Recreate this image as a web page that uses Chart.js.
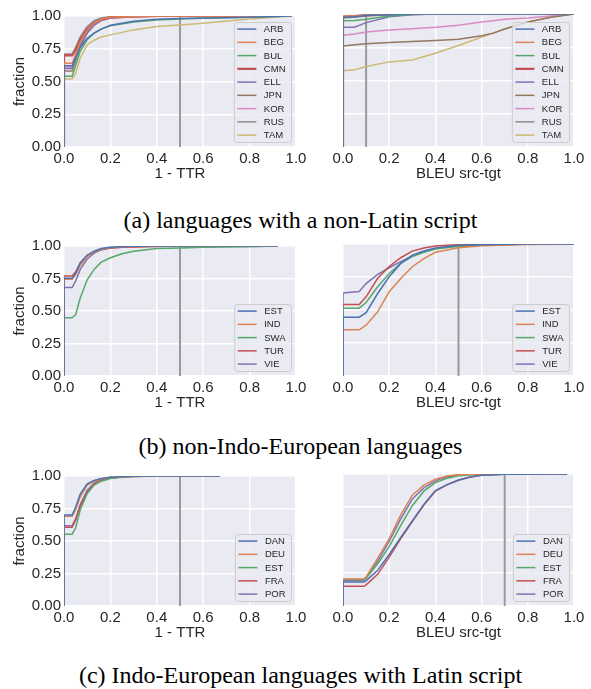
<!DOCTYPE html>
<html>
<head>
<meta charset="utf-8">
<script src="https://cdn.jsdelivr.net/npm/chart.js@4.4.1/dist/chart.umd.min.js"></script>
<style>
  html, body { margin: 0; padding: 0; background: #ffffff; }
  body { width: 591px; height: 689px; position: relative; overflow: hidden; }
  canvas { position: absolute; }
  .cap { position: absolute; left: 0; width: 601px; text-align: center;
         font-family: "Liberation Serif", "Times New Roman", serif; font-size: 24px;
         line-height: 24px; color: #000; white-space: nowrap; }
</style>
</head>
<body>
<canvas id="c1" width="320" height="188" style="left:0px;top:4px"></canvas>
<canvas id="c2" width="291" height="188" style="left:300px;top:4px"></canvas>
<canvas id="c3" width="320" height="187" style="left:0px;top:234px"></canvas>
<canvas id="c4" width="291" height="187" style="left:300px;top:234px"></canvas>
<canvas id="c5" width="320" height="187" style="left:0px;top:464px"></canvas>
<canvas id="c6" width="291" height="187" style="left:300px;top:464px"></canvas>
<div class="cap" style="top:208px">(a) languages with a non-Latin script</div>
<div class="cap" style="top:434px">(b) non-Indo-European languages</div>
<div class="cap" style="top:663px">(c) Indo-European languages with Latin script</div>
<script>
// ---------- data ----------
const PALETTE = ['#4C72B0','#DD8452','#55A868','#C44E52','#8172B3','#937860','#DA8BC3','#8C8C8C','#CCB974'];

const X_TICKS = [0, 0.2, 0.4, 0.6, 0.8, 1.0];
const Y_TICKS = [0, 0.25, 0.5, 0.75, 1.0];

// (a) non-Latin script, 1 - TTR
const A_TTR_LABELS = ['ARB','BEG','BUL','CMN','ELL','JPN','KOR','RUS','TAM'];
const A_TTR_X   = [0, 0, 0.035, 0.05, 0.07, 0.1, 0.13, 0.16, 0.2, 0.3, 0.4, 0.5, 0.6, 0.8, 0.98];
const A_TTR_ARB = [0, 0.62, 0.62, 0.68, 0.76, 0.83, 0.87, 0.90, 0.93, 0.96, 0.975, 0.98, 0.985, 0.99, 1];
const A_TTR_BEG = [0, 0.64, 0.64, 0.71, 0.80, 0.89, 0.945, 0.975, 0.99, 0.997, 1, 1, 1, 1, 1];
const A_TTR_BUL = [0, 0.54, 0.54, 0.62, 0.73, 0.82, 0.87, 0.90, 0.925, 0.955, 0.97, 0.978, 0.983, 0.99, 1];
const A_TTR_CMN = [0, 0.70, 0.70, 0.74, 0.82, 0.90, 0.95, 0.975, 0.99, 0.997, 1, 1, 1, 1, 1];
const A_TTR_ELL = [0, 0.60, 0.60, 0.67, 0.77, 0.87, 0.93, 0.965, 0.985, 0.995, 0.998, 1, 1, 1, 1];
const A_TTR_JPN = [0, 0.58, 0.58, 0.66, 0.77, 0.88, 0.94, 0.97, 0.988, 0.996, 1, 1, 1, 1, 1];
const A_TTR_KOR = [0, 0.61, 0.61, 0.68, 0.78, 0.87, 0.93, 0.965, 0.985, 0.995, 0.998, 1, 1, 1, 1];
const A_TTR_RUS = [0, 0.71, 0.71, 0.76, 0.84, 0.92, 0.965, 0.985, 0.995, 1, 1, 1, 1, 1, 1];
const A_TTR_TAM = [0, 0.52, 0.52, 0.56, 0.68, 0.78, 0.815, 0.84, 0.856, 0.894, 0.92, 0.932, 0.945, 0.977, 1];
const A_TTR_VLINE = 0.5;

// (a) non-Latin script, BLEU src-tgt
const A_BLEU_X   = [0, 0, 0.05, 0.1, 0.2, 0.3, 0.4, 0.5, 0.6, 0.65, 0.7, 0.8, 0.9, 1.0];
const A_BLEU_ARB = [0, 0.975, 0.98, 0.988, 0.995, 1, 1, 1, 1, 1, 1, 1, 1, 1];
const A_BLEU_BEG = [0, 0.98, 0.985, 0.99, 0.997, 1, 1, 1, 1, 1, 1, 1, 1, 1];
const A_BLEU_BUL = [0, 0.95, 0.952, 0.96, 0.985, 0.997, 1, 1, 1, 1, 1, 1, 1, 1];
const A_BLEU_CMN = [0, 0.98, 0.985, 0.992, 0.998, 1, 1, 1, 1, 1, 1, 1, 1, 1];
const A_BLEU_ELL = [0, 0.90, 0.90, 0.935, 0.98, 0.995, 1, 1, 1, 1, 1, 1, 1, 1];
const A_BLEU_JPN = [0, 0.76, 0.768, 0.776, 0.786, 0.793, 0.80, 0.81, 0.836, 0.856, 0.887, 0.94, 0.975, 1];
const A_BLEU_KOR = [0, 0.84, 0.85, 0.864, 0.879, 0.89, 0.90, 0.915, 0.94, 0.95, 0.96, 0.97, 0.985, 1];
const A_BLEU_RUS = [0, 0.97, 0.975, 0.985, 0.995, 1, 1, 1, 1, 1, 1, 1, 1, 1];
const A_BLEU_TAM = [0, 0.574, 0.58, 0.605, 0.64, 0.655, 0.705, 0.763, 0.826, 0.856, 0.887, 0.94, 0.975, 1];
const A_BLEU_VLINE = 0.1;

// (b) non-Indo-European, 1 - TTR
const B_LABELS = ['EST','IND','SWA','TUR','VIE'];
const B_TTR_X   = [0, 0, 0.035, 0.05, 0.07, 0.1, 0.13, 0.16, 0.2, 0.25, 0.3, 0.4, 0.5, 0.6, 0.8, 0.92];
const B_TTR_EST = [0, 0.752, 0.752, 0.79, 0.87, 0.93, 0.96, 0.98, 0.99, 0.995, 0.998, 1, 1, 1, 1, 1];
const B_TTR_IND = [0, 0.744, 0.744, 0.78, 0.85, 0.92, 0.955, 0.975, 0.988, 0.993, 0.996, 1, 1, 1, 1, 1];
const B_TTR_SWA = [0, 0.448, 0.448, 0.47, 0.60, 0.74, 0.82, 0.876, 0.91, 0.94, 0.96, 0.98, 0.985, 0.99, 0.995, 1];
const B_TTR_TUR = [0, 0.77, 0.77, 0.80, 0.87, 0.925, 0.955, 0.975, 0.985, 0.99, 0.993, 0.997, 1, 1, 1, 1];
const B_TTR_VIE = [0, 0.68, 0.68, 0.73, 0.82, 0.90, 0.945, 0.97, 0.985, 0.99, 0.995, 1, 1, 1, 1, 1];
const B_TTR_VLINE = 0.5;

// (b) non-Indo-European, BLEU src-tgt
const B_BLEU_X   = [0, 0, 0.07, 0.1, 0.15, 0.2, 0.25, 0.3, 0.35, 0.4, 0.5, 0.6, 0.8, 1.0];
const B_BLEU_EST = [0, 0.446, 0.446, 0.48, 0.625, 0.752, 0.853, 0.916, 0.947, 0.97, 0.99, 0.995, 1, 1];
const B_BLEU_IND = [0, 0.35, 0.35, 0.385, 0.486, 0.638, 0.739, 0.828, 0.89, 0.937, 0.972, 0.987, 0.997, 1];
const B_BLEU_SWA = [0, 0.514, 0.514, 0.557, 0.676, 0.777, 0.853, 0.904, 0.937, 0.962, 0.982, 0.99, 1, 1];
const B_BLEU_TUR = [0, 0.542, 0.542, 0.60, 0.74, 0.83, 0.896, 0.946, 0.97, 0.985, 0.995, 1, 1, 1];
const B_BLEU_VIE = [0, 0.628, 0.64, 0.70, 0.77, 0.82, 0.866, 0.91, 0.94, 0.965, 0.985, 0.99, 1, 1];
const B_BLEU_VLINE = 0.5;

// (c) Indo-European Latin script, 1 - TTR
const C_LABELS = ['DAN','DEU','EST','FRA','POR'];
const C_TTR_X   = [0, 0, 0.035, 0.05, 0.07, 0.1, 0.13, 0.16, 0.2, 0.25, 0.3, 0.4, 0.67];
const C_TTR_DAN = [0, 0.70, 0.70, 0.76, 0.86, 0.94, 0.965, 0.98, 0.99, 0.996, 0.999, 1, 1];
const C_TTR_DEU = [0, 0.69, 0.69, 0.74, 0.84, 0.93, 0.96, 0.978, 0.99, 0.995, 0.998, 1, 1];
const C_TTR_EST = [0, 0.552, 0.552, 0.60, 0.74, 0.866, 0.93, 0.96, 0.98, 0.99, 0.996, 1, 1];
const C_TTR_FRA = [0, 0.605, 0.605, 0.66, 0.77, 0.878, 0.94, 0.968, 0.984, 0.993, 0.997, 1, 1];
const C_TTR_POR = [0, 0.618, 0.618, 0.67, 0.78, 0.89, 0.945, 0.97, 0.985, 0.994, 0.998, 1, 1];
const C_TTR_VLINE = 0.5;

// (c) Indo-European Latin script, BLEU src-tgt
const C_BLEU_X   = [0, 0, 0.09, 0.1, 0.15, 0.2, 0.25, 0.3, 0.35, 0.4, 0.45, 0.5, 0.55, 0.6, 0.7, 0.97];
const C_BLEU_DAN = [0, 0.182, 0.182, 0.19, 0.27, 0.39, 0.52, 0.645, 0.77, 0.875, 0.92, 0.955, 0.978, 0.99, 0.998, 1];
const C_BLEU_DEU = [0, 0.205, 0.205, 0.22, 0.36, 0.51, 0.69, 0.84, 0.916, 0.96, 0.985, 0.995, 0.998, 1, 1, 1];
const C_BLEU_EST = [0, 0.20, 0.20, 0.21, 0.32, 0.45, 0.61, 0.76, 0.87, 0.935, 0.968, 0.986, 0.994, 0.998, 1, 1];
const C_BLEU_FRA = [0, 0.149, 0.149, 0.16, 0.24, 0.37, 0.51, 0.64, 0.765, 0.87, 0.918, 0.953, 0.977, 0.99, 0.998, 1];
const C_BLEU_POR = [0, 0.195, 0.195, 0.21, 0.34, 0.49, 0.66, 0.81, 0.895, 0.948, 0.978, 0.992, 0.997, 1, 1, 1];
const C_BLEU_VLINE = 0.7;

// ---------- chart building ----------
const TEXT_COLOR = '#262626';
const SANS = '"Liberation Sans", Arial, sans-serif';

const bgPlugin = {
  id: 'bgPlugin',
  beforeDraw(chart) {
    const a = chart.chartArea, ctx = chart.ctx;
    ctx.save();
    ctx.fillStyle = '#EAEAF2';
    ctx.fillRect(a.left, a.top, a.right - a.left, a.bottom - a.top);
    ctx.restore();
  }
};

function roundRect(ctx, x, y, w, h, r) {
  ctx.beginPath();
  ctx.moveTo(x + r, y);
  ctx.lineTo(x + w - r, y);
  ctx.arcTo(x + w, y, x + w, y + r, r);
  ctx.lineTo(x + w, y + h - r);
  ctx.arcTo(x + w, y + h, x + w - r, y + h, r);
  ctx.lineTo(x + r, y + h);
  ctx.arcTo(x, y + h, x, y + h - r, r);
  ctx.lineTo(x, y + r);
  ctx.arcTo(x, y, x + r, y, r);
  ctx.closePath();
}

const innerLegend = {
  id: 'innerLegend',
  afterDatasetsDraw(chart) {
    const ctx = chart.ctx, a = chart.chartArea;
    const items = chart.data.datasets.filter(d => !d.isVLine);
    const rowH = 13.25;
    ctx.save();
    ctx.font = '9.5px ' + SANS;
    let maxW = 0;
    items.forEach(d => { maxW = Math.max(maxW, ctx.measureText(d.label).width); });
    const w = 4 + 19 + 7.5 + maxW + 5;
    const h = 6.6 + 7.4 + rowH * (items.length - 1);
    const x = a.right - 5 - w;
    const y = a.bottom - 5 - h;
    roundRect(ctx, x + 0.5, y + 0.5, w, h, 3);
    ctx.fillStyle = 'rgba(234,234,242,0.8)';
    ctx.fill();
    ctx.strokeStyle = '#cccccc';
    ctx.lineWidth = 1;
    ctx.stroke();
    items.forEach((d, i) => {
      const cy = y + 6.6 + i * rowH + 0.5;
      ctx.strokeStyle = d.borderColor;
      ctx.lineWidth = d.borderWidth;
      ctx.beginPath();
      ctx.moveTo(x + 3.5, cy);
      ctx.lineTo(x + 22.5, cy);
      ctx.stroke();
      ctx.fillStyle = TEXT_COLOR;
      ctx.textBaseline = 'middle';
      ctx.textAlign = 'left';
      ctx.fillText(d.label, x + 30, cy + 0.5);
    });
    ctx.restore();
  }
};

function makeChart(id, xs, labels, seriesList, vline, isLeft, xTitle) {
  const datasets = seriesList.map((ys, i) => {
    const lab = labels[i];
    return {
      label: lab,
      data: xs.map((x, k) => ({ x: x, y: ys[k] })),
      borderColor: PALETTE[i],
      backgroundColor: PALETTE[i],
      borderWidth: lab === 'CMN' ? 2.2 : 1.5,
      pointRadius: 0,
      tension: 0,
      fill: false
    };
  });
  datasets.push({
    label: 'vline',
    isVLine: true,
    data: [{ x: vline, y: 0 }, { x: vline, y: 1 }],
    borderColor: '#9a9a9a',
    borderWidth: 2,
    pointRadius: 0,
    fill: false
  });
  return new Chart(document.getElementById(id), {
    type: 'line',
    data: { datasets },
    plugins: [bgPlugin, innerLegend],
    options: {
      responsive: false,
      animation: false,
      devicePixelRatio: 1,
      layout: { padding: { top: 10, right: isLeft ? 24 : 17, left: 0, bottom: 0 } },
      plugins: { legend: { display: false }, tooltip: { enabled: false } },
      scales: {
        x: {
          type: 'linear', min: 0, max: 1,
          afterBuildTicks: s => { s.ticks = X_TICKS.map(v => ({ value: v })); },
          ticks: { callback: v => Number(v).toFixed(1), color: TEXT_COLOR, padding: 3,
                   font: { family: SANS, size: 15 }, maxRotation: 0, autoSkip: false },
          grid: { color: '#ffffff', lineWidth: 1.5, drawTicks: false },
          border: { display: false },
          title: { display: true, text: xTitle, color: TEXT_COLOR,
                   font: { family: SANS, size: 15 }, padding: { top: 0, bottom: 9 } },
          afterFit: s => { s.height = 45; }
        },
        y: {
          type: 'linear', min: 0, max: 1,
          afterBuildTicks: s => { s.ticks = Y_TICKS.map(v => ({ value: v })); },
          ticks: { display: isLeft, callback: v => Number(v).toFixed(2), color: TEXT_COLOR, padding: 3,
                   font: { family: SANS, size: 15 }, autoSkip: false },
          grid: { color: '#ffffff', lineWidth: 1.5, drawTicks: false },
          border: { display: false },
          title: { display: isLeft, text: 'fraction', color: TEXT_COLOR,
                   font: { family: SANS, size: 15 }, padding: { top: 11, bottom: 0 } },
          afterFit: s => { s.width = isLeft ? 64 : 43; }
        }
      }
    }
  });
}

makeChart('c1', A_TTR_X, A_TTR_LABELS,
  [A_TTR_ARB, A_TTR_BEG, A_TTR_BUL, A_TTR_CMN, A_TTR_ELL, A_TTR_JPN, A_TTR_KOR, A_TTR_RUS, A_TTR_TAM],
  A_TTR_VLINE, true, '1 - TTR');
makeChart('c2', A_BLEU_X, A_TTR_LABELS,
  [A_BLEU_ARB, A_BLEU_BEG, A_BLEU_BUL, A_BLEU_CMN, A_BLEU_ELL, A_BLEU_JPN, A_BLEU_KOR, A_BLEU_RUS, A_BLEU_TAM],
  A_BLEU_VLINE, false, 'BLEU src-tgt');
makeChart('c3', B_TTR_X, B_LABELS,
  [B_TTR_EST, B_TTR_IND, B_TTR_SWA, B_TTR_TUR, B_TTR_VIE],
  B_TTR_VLINE, true, '1 - TTR');
makeChart('c4', B_BLEU_X, B_LABELS,
  [B_BLEU_EST, B_BLEU_IND, B_BLEU_SWA, B_BLEU_TUR, B_BLEU_VIE],
  B_BLEU_VLINE, false, 'BLEU src-tgt');
makeChart('c5', C_TTR_X, C_LABELS,
  [C_TTR_DAN, C_TTR_DEU, C_TTR_EST, C_TTR_FRA, C_TTR_POR],
  C_TTR_VLINE, true, '1 - TTR');
makeChart('c6', C_BLEU_X, C_LABELS,
  [C_BLEU_DAN, C_BLEU_DEU, C_BLEU_EST, C_BLEU_FRA, C_BLEU_POR],
  C_BLEU_VLINE, false, 'BLEU src-tgt');
</script>
</body>
</html>
